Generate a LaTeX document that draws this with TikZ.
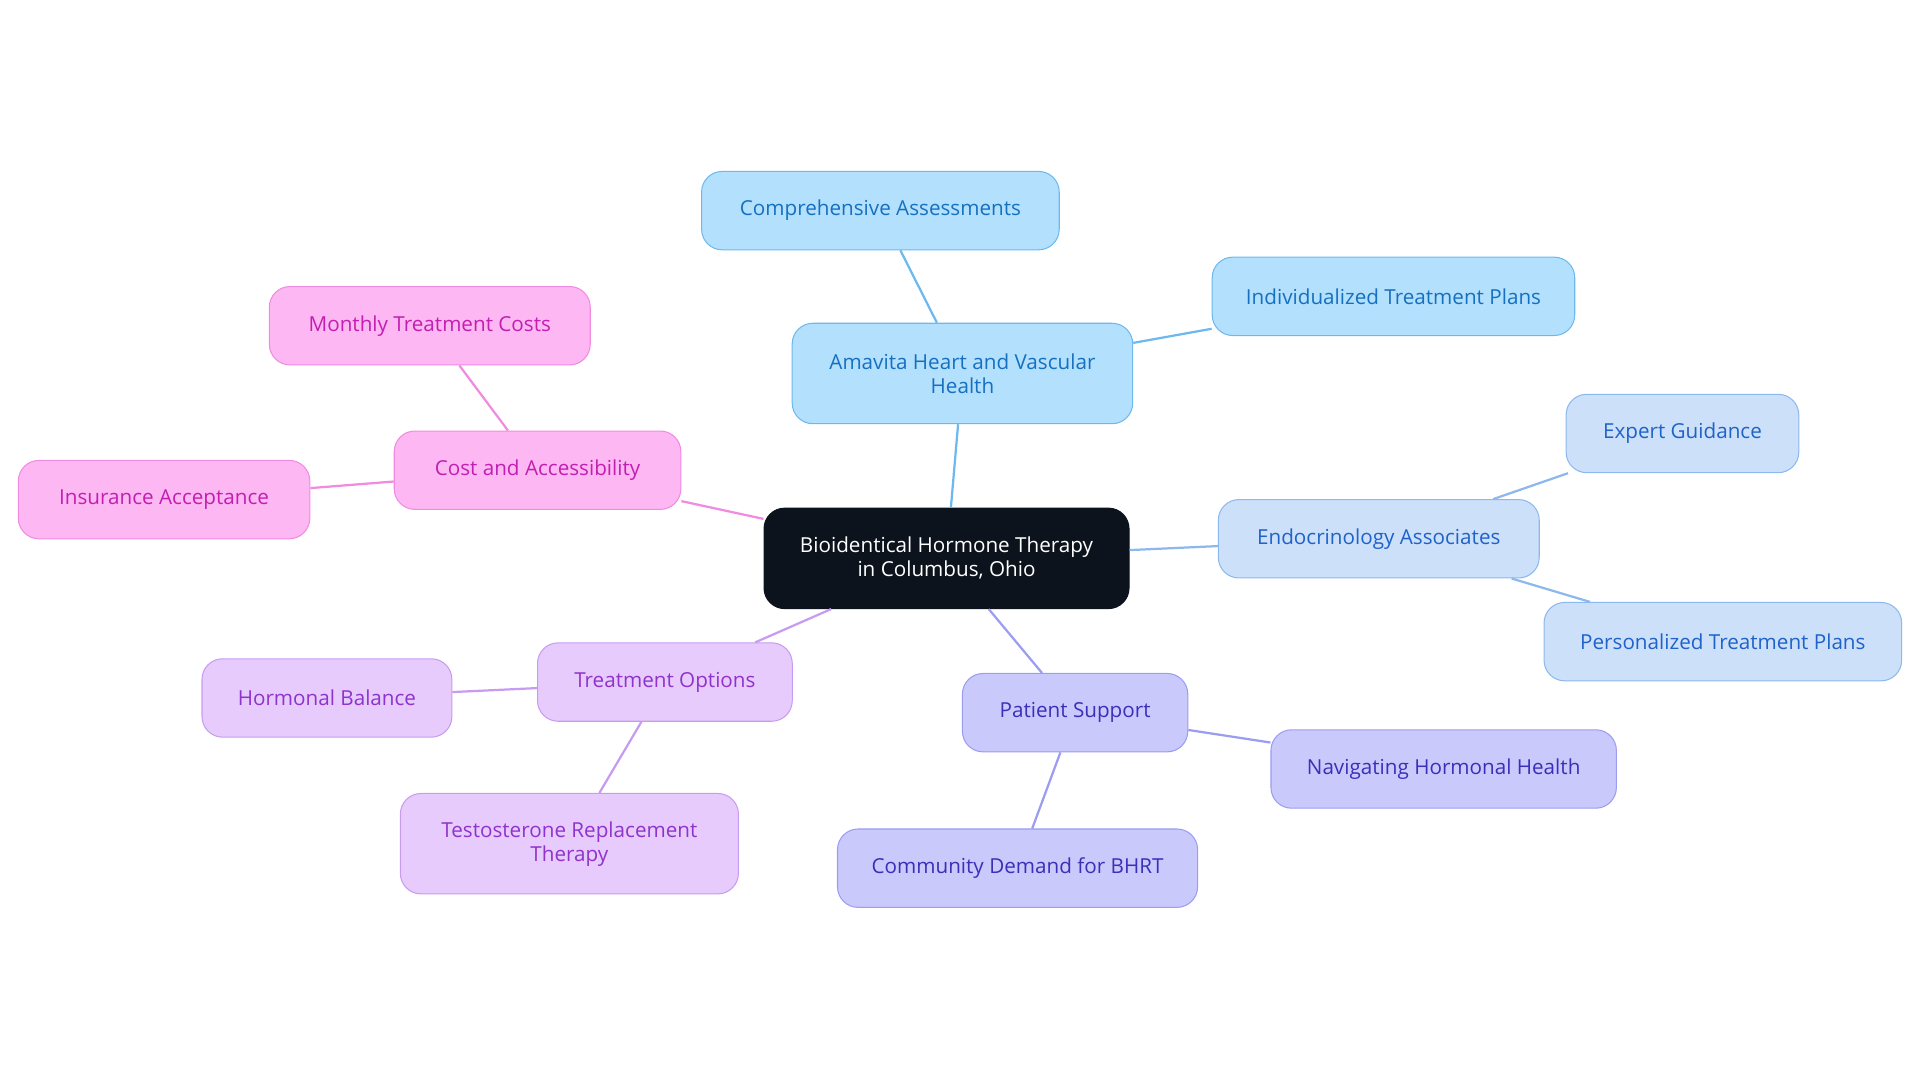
\documentclass[tikz,border=0pt]{standalone}
\usepackage{fontspec}
\setmainfont{Open Sans}
\usetikzlibrary{positioning}
\definecolor{hubfill}{HTML}{0D131C}
\definecolor{bAfill}{HTML}{B3E0FD}\definecolor{bAline}{HTML}{6DB9EE}\definecolor{bAtext}{HTML}{1670C0}
\definecolor{bBfill}{HTML}{CCE0FA}\definecolor{bBline}{HTML}{8DB8EE}\definecolor{bBtext}{HTML}{1F62C8}
\definecolor{bCfill}{HTML}{C9C9FC}\definecolor{bCline}{HTML}{9C9CF0}\definecolor{bCtext}{HTML}{3A30B8}
\definecolor{bDfill}{HTML}{E6CBFC}\definecolor{bDline}{HTML}{C79CF0}\definecolor{bDtext}{HTML}{9033CC}
\definecolor{bEfill}{HTML}{FDB7F2}\definecolor{bEline}{HTML}{F08BE0}\definecolor{bEtext}{HTML}{C21FB2}
\tikzset{
  pill/.style={rounded corners=0.42cm, minimum height=1.6cm, align=center, font=\fontsize{12}{14}\selectfont, line width=0.6pt},
  hub/.style={pill, fill=hubfill, draw=hubfill, text=white, minimum height=2.05cm},
  amav/.style={pill, fill=bAfill, draw=bAline, text=bAtext},
  endo/.style={pill, fill=bBfill, draw=bBline, text=bBtext},
  supp/.style={pill, fill=bCfill, draw=bCline, text=bCtext},
  trea/.style={pill, fill=bDfill, draw=bDline, text=bDtext},
  cost/.style={pill, fill=bEfill, draw=bEline, text=bEtext},
  link/.style={line width=1.3pt}
}
\begin{document}
\begin{tikzpicture}[x=0.025cm,y=-0.025cm]
\useasboundingbox (0,0) rectangle (1568,884);
% centre
\node[hub, minimum width=7.45cm] (root) at (773,456) {Bioidentical Hormone Therapy\\in Columbus, Ohio};
% Amavita branch
\node[amav, minimum width=6.95cm, minimum height=2.05cm] (amavita) at (786,305) {Amavita Heart and Vascular\\Health};
\node[amav, minimum width=7.3cm] (assess) at (719,172) {Comprehensive Assessments};
\node[amav, minimum width=7.4cm] (plans) at (1138,242) {Individualized Treatment Plans};
% Endocrinology branch
\node[endo, minimum width=6.55cm] (endo) at (1126,440) {Endocrinology Associates};
\node[endo, minimum width=4.75cm] (expert) at (1374,354) {Expert Guidance};
\node[endo, minimum width=7.3cm] (personal) at (1407,524) {Personalized Treatment Plans};
% support branch
\node[supp, minimum width=4.6cm] (support) at (878,582) {Patient Support};
\node[supp, minimum width=7.05cm] (navig) at (1179,628) {Navigating Hormonal Health};
\node[supp, minimum width=7.35cm] (demand) at (831,709) {Community Demand for BHRT};
% treatment branch
\node[trea, minimum width=5.2cm] (options) at (543,557) {Treatment Options};
\node[trea, minimum width=5.1cm] (balance) at (267,570) {Hormonal Balance};
\node[trea, minimum width=6.9cm, minimum height=2.05cm] (trt) at (465,689) {Testosterone Replacement\\Therapy};
% cost branch
\node[cost, minimum width=5.85cm] (access) at (439,384) {Cost and Accessibility};
\node[cost, minimum width=6.55cm] (monthly) at (351,266) {Monthly Treatment Costs};
\node[cost, minimum width=5.95cm] (insur) at (134,408) {Insurance Acceptance};
% links
\draw[link, bAline] (root) -- (amavita);
\draw[link, bAline] (amavita) -- (assess);
\draw[link, bAline] (amavita) -- (plans);
\draw[link, bBline] (root) -- (endo);
\draw[link, bBline] (endo) -- (expert);
\draw[link, bBline] (endo) -- (personal);
\draw[link, bCline] (root) -- (support);
\draw[link, bCline] (support) -- (navig);
\draw[link, bCline] (support) -- (demand);
\draw[link, bDline] (root) -- (options);
\draw[link, bDline] (options) -- (balance);
\draw[link, bDline] (options) -- (trt);
\draw[link, bEline] (root) -- (access);
\draw[link, bEline] (access) -- (monthly);
\draw[link, bEline] (access) -- (insur);
\end{tikzpicture}
\end{document}
